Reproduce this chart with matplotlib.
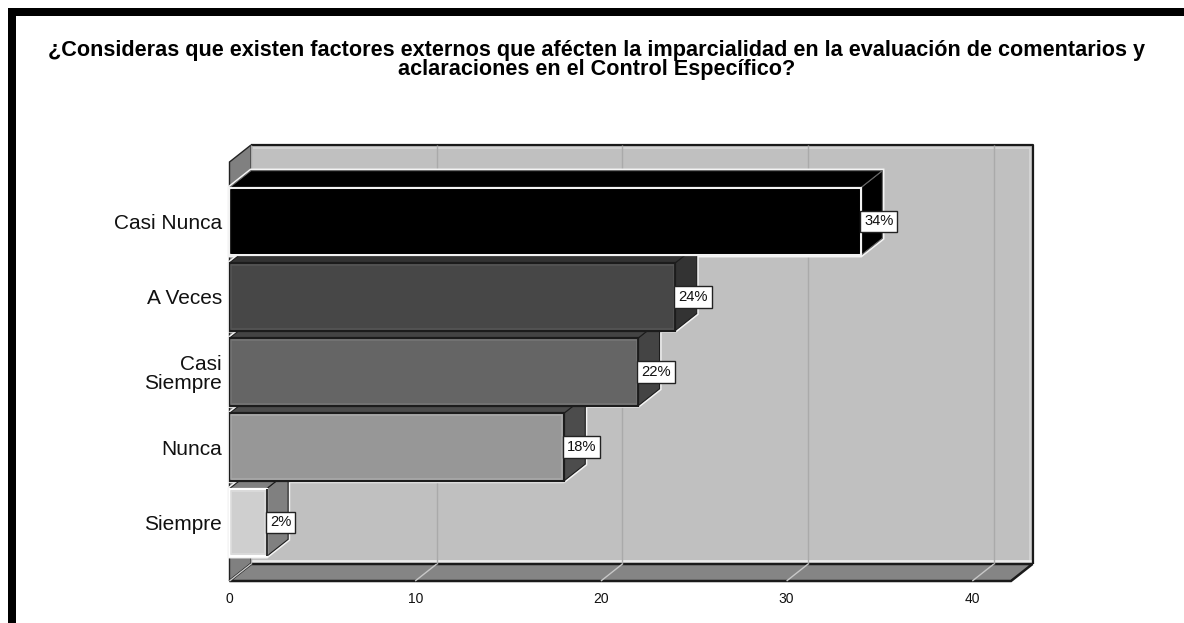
import matplotlib
matplotlib.use("Agg")
from matplotlib import pyplot as plt
from matplotlib.patches import Polygon, Rectangle

plt.rcParams['font.family'] = ['Liberation Sans', 'DejaVu Sans']

titulo = "¿Consideras que existen factores externos que afécten la imparcialidad en la evaluación de comentarios y\naclaraciones en el Control Específico?"
categorias = ["Casi Nunca", "A Veces", "Casi\nSiempre", "Nunca", "Siempre"]
valores = [34, 24, 22, 18, 2]
etiquetas = ["34%", "24%", "22%", "18%", "2%"]
colores = ["#000000", "#474747", "#656565", "#979797", "#cfcfcf"]
lados = ["#000000", "#333333", "#444444", "#4c4c4c", "#808080"]
bordes = ["#f2f2f2", "#1c1c1c", "#1c1c1c", "#1c1c1c", "#ffffff"]
biseles = ["#000000", "#555555", "#757575", "#a8a8a8", "#dcdcdc"]
xticks = [0, 10, 20, 30, 40]

W, H = 1184, 623
fig = plt.figure(figsize=(W / 100, H / 100), dpi=100, facecolor='white')

# plot box in pixels, front plane
left, right, top, bottom = 229.5, 1011, 162, 581
ax = fig.add_axes([left / W, 1 - bottom / H, (right - left) / W, (bottom - top) / H])
xmax = (right - left) / 18.57
ax.set_xlim(0, xmax)
# categories are 75.25 px apart, first centre at y=221.5
ax.set_ylim((bottom - 221.5) / 75.25, (top - 221.5) / 75.25)
ax.patch.set_alpha(0)
for s in ax.spines.values():
    s.set_visible(False)

dx = 21.5 / 18.57   # depth of the fake 3d
dy = -17 / 75.25
y0, y1 = ax.get_ylim()

def poly(pts, fc, ec='none', lw=0, z=1):
    ax.add_patch(Polygon(pts, closed=True, facecolor=fc, edgecolor=ec, linewidth=lw,
                         zorder=z, clip_on=False, joinstyle='miter'))

def linea(xs, ys, color, lw, z):
    ax.plot(xs, ys, color=color, lw=lw, zorder=z, clip_on=False, solid_capstyle='butt')

# walls
poly([(dx, y0 + dy), (xmax + dx, y0 + dy), (xmax + dx, y1 + dy), (dx, y1 + dy)], '#c0c0c0', z=1)
linea([dx, xmax + dx, xmax + dx], [y1 + dy, y1 + dy, y0 + dy], '#1a1a1a', 1.6, 2)
linea([dx + .12, xmax + dx - .14, xmax + dx - .14], [y1 + dy + .035, y1 + dy + .035, y0 + dy - .03], '#d4d4d4', 1.4, 2)
linea([dx, xmax + dx - .1], [y0 + dy - .035, y0 + dy - .035], '#ececec', 2, 2)
poly([(0, y0), (dx, y0 + dy), (dx, y1 + dy), (0, y1)], '#808080', ec='#222222', lw=1, z=2)
poly([(0, y0), (xmax, y0), (xmax + dx, y0 + dy), (dx, y0 + dy)], '#858585', ec='#1a1a1a', lw=1.8, z=2)

# grid on wall and floor
for t in xticks:
    linea([t + dx, t + dx], [y0 + dy, y1 + dy], '#aaaaaa', 1, 3)
    linea([t, t + dx], [y0, y0 + dy], '#c8c8c8', 1, 3)

# white halo around every bar, only the part on the wall stays visible
bar_h = 0.9
for i, v in enumerate(valores):
    a, b = i - bar_h / 2, i + bar_h / 2
    poly([(0, a), (dx, a + dy), (v + dx, a + dy), (v + dx, b + dy), (v, b), (0, b)], 'white', ec='#f4f4f4', lw=3, z=5)

for i in range(len(valores) - 1, -1, -1):
    v = valores[i]
    a, b = i - bar_h / 2, i + bar_h / 2
    z = 10 + (len(valores) - i)
    cara = '#666666' if i == 0 else '#1c1c1c'
    poly([(v, a), (v + dx, a + dy), (v + dx, b + dy), (v, b)], lados[i], ec=cara, lw=0.8, z=z)
    poly([(0, a), (dx, a + dy), (v + dx, a + dy), (v, a)], lados[i], ec=cara, lw=0.8, z=z)
    ax.barh(i, v, height=bar_h, color=colores[i], edgecolor=bordes[i], linewidth=1.6, zorder=z + .5, clip_on=False)
    # lighter inner bevel
    ax.barh(i, v - .16, left=.08, height=bar_h - .05, color='none', edgecolor=biseles[i], linewidth=1.2, zorder=z + .6, clip_on=False)
    linea([v, v], [a, b], '#1c1c1c' if i else '#f2f2f2', 1.3, z + .7)
    ax.text(v + 0.17, i, etiquetas[i], ha='left', va='center', fontsize=10.6, color='#111111', zorder=30, clip_on=False,
            bbox=dict(boxstyle='square,pad=0.27', facecolor='white', edgecolor='#222222', linewidth=1))

ax.set_yticks(range(len(categorias)))
ax.set_yticklabels(categorias, fontsize=15, color='#111111', linespacing=1.0)
ax.set_xticks(xticks)
ax.set_xticklabels([str(t) for t in xticks], fontsize=10, color='#111111')
ax.tick_params(axis='both', length=0)
ax.tick_params(axis='y', pad=5.5)
ax.tick_params(axis='x', pad=8)

fig.text(596.5 / W, 1 - 60 / H, titulo, ha='center', va='center', fontsize=15.55, fontweight='bold', color='black', linespacing=0.92)

# black frame of the screenshot
fig.add_artist(Rectangle((8 / W, 0), 8 / W, 1 - 8 / H, transform=fig.transFigure, color='black', lw=0))
fig.add_artist(Rectangle((8 / W, 1 - 16 / H), 1 - 8 / W, 8 / H, transform=fig.transFigure, color='black', lw=0))

fig.savefig('out.png', dpi=100)
